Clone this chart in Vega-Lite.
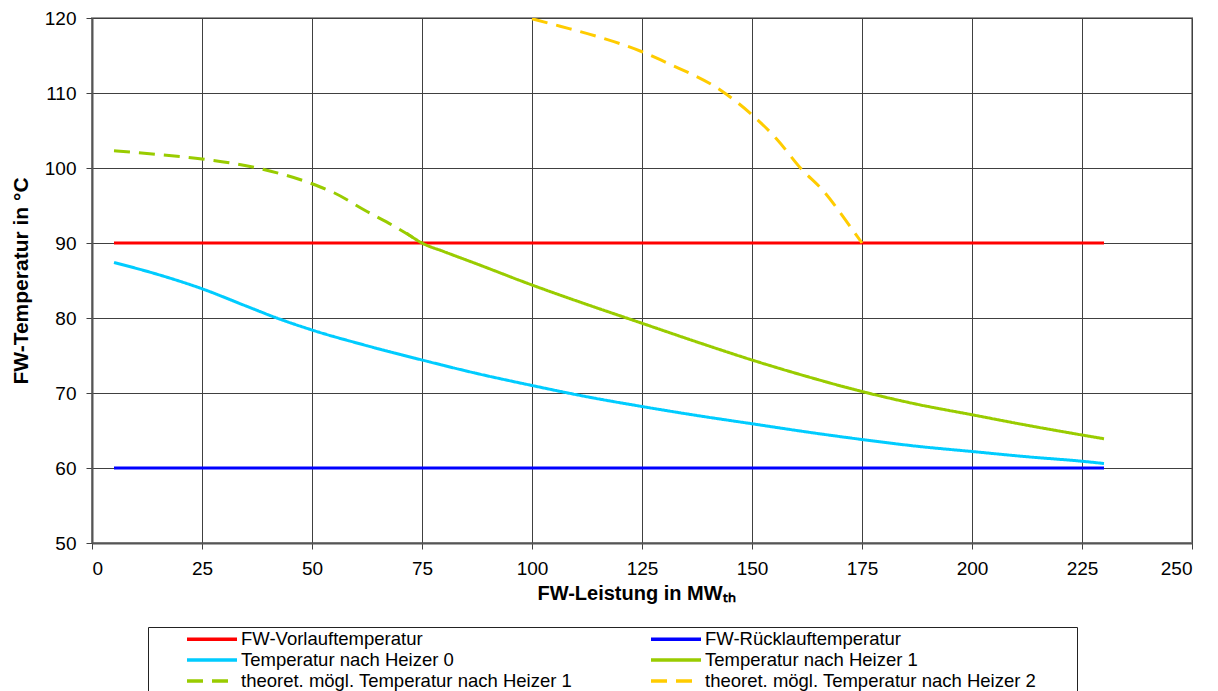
{
  "$schema": "https://vega.github.io/schema/vega-lite/v6.json",
  "width": 1100,
  "height": 525,
  "autosize": {"type": "none"},
  "padding": {"left": 92, "top": 18, "right": 26, "bottom": 148},
  "background": "white",
  "config": {
    "font": "Liberation Sans",
    "view": {"stroke": "#999999", "strokeWidth": 2},
    "axis": {
      "gridColor": "#404040",
      "gridWidth": 1,
      "gridOpacity": 1,
      "domainColor": "#555555",
      "domainWidth": 2,
      "tickColor": "#404040",
      "tickSize": 6,
      "labelFont": "Liberation Sans",
      "labelFontSize": 19,
      "labelColor": "#000000",
      "titleFont": "Liberation Sans",
      "titleFontSize": 19,
      "titleFontWeight": "bold",
      "titleColor": "#000000"
    }
  },
  "data": {
    "values": [
      {"series": "FW-Vorlauftemperatur", "x": 5, "y": 90},
      {"series": "FW-Vorlauftemperatur", "x": 230, "y": 90},
      {"series": "FW-Rücklauftemperatur", "x": 5, "y": 60},
      {"series": "FW-Rücklauftemperatur", "x": 230, "y": 60},
      {"series": "Temperatur nach Heizer 0", "x": 5, "y": 87.4},
      {"series": "Temperatur nach Heizer 0", "x": 15, "y": 85.8},
      {"series": "Temperatur nach Heizer 0", "x": 25, "y": 83.9},
      {"series": "Temperatur nach Heizer 0", "x": 35, "y": 81.6},
      {"series": "Temperatur nach Heizer 0", "x": 42, "y": 80.0},
      {"series": "Temperatur nach Heizer 0", "x": 50, "y": 78.4},
      {"series": "Temperatur nach Heizer 0", "x": 62.5, "y": 76.3},
      {"series": "Temperatur nach Heizer 0", "x": 75, "y": 74.4},
      {"series": "Temperatur nach Heizer 0", "x": 87.5, "y": 72.6},
      {"series": "Temperatur nach Heizer 0", "x": 100, "y": 71.0},
      {"series": "Temperatur nach Heizer 0", "x": 112.5, "y": 69.5},
      {"series": "Temperatur nach Heizer 0", "x": 125, "y": 68.2},
      {"series": "Temperatur nach Heizer 0", "x": 137.5, "y": 67.0},
      {"series": "Temperatur nach Heizer 0", "x": 150, "y": 65.9},
      {"series": "Temperatur nach Heizer 0", "x": 162.5, "y": 64.8},
      {"series": "Temperatur nach Heizer 0", "x": 175, "y": 63.8},
      {"series": "Temperatur nach Heizer 0", "x": 187.5, "y": 62.9},
      {"series": "Temperatur nach Heizer 0", "x": 200, "y": 62.2},
      {"series": "Temperatur nach Heizer 0", "x": 212.5, "y": 61.5},
      {"series": "Temperatur nach Heizer 0", "x": 225, "y": 60.9},
      {"series": "Temperatur nach Heizer 0", "x": 230, "y": 60.6},
      {"series": "Temperatur nach Heizer 1", "x": 71.5, "y": 91.3},
      {"series": "Temperatur nach Heizer 1", "x": 75, "y": 90.0},
      {"series": "Temperatur nach Heizer 1", "x": 80, "y": 88.85},
      {"series": "Temperatur nach Heizer 1", "x": 87.5, "y": 87.2},
      {"series": "Temperatur nach Heizer 1", "x": 100, "y": 84.4},
      {"series": "Temperatur nach Heizer 1", "x": 112.5, "y": 81.8},
      {"series": "Temperatur nach Heizer 1", "x": 125, "y": 79.3},
      {"series": "Temperatur nach Heizer 1", "x": 137.5, "y": 76.8},
      {"series": "Temperatur nach Heizer 1", "x": 150, "y": 74.4},
      {"series": "Temperatur nach Heizer 1", "x": 162.5, "y": 72.2},
      {"series": "Temperatur nach Heizer 1", "x": 175, "y": 70.2},
      {"series": "Temperatur nach Heizer 1", "x": 187.5, "y": 68.5},
      {"series": "Temperatur nach Heizer 1", "x": 200, "y": 67.1},
      {"series": "Temperatur nach Heizer 1", "x": 212.5, "y": 65.7},
      {"series": "Temperatur nach Heizer 1", "x": 225, "y": 64.4},
      {"series": "Temperatur nach Heizer 1", "x": 230, "y": 63.9},
      {"series": "theoret. mögl. Temperatur nach Heizer 1", "x": 5, "y": 102.3},
      {"series": "theoret. mögl. Temperatur nach Heizer 1", "x": 15, "y": 101.8},
      {"series": "theoret. mögl. Temperatur nach Heizer 1", "x": 25, "y": 101.2},
      {"series": "theoret. mögl. Temperatur nach Heizer 1", "x": 37.5, "y": 100.0},
      {"series": "theoret. mögl. Temperatur nach Heizer 1", "x": 50, "y": 97.9},
      {"series": "theoret. mögl. Temperatur nach Heizer 1", "x": 55, "y": 96.7},
      {"series": "theoret. mögl. Temperatur nach Heizer 1", "x": 62.5, "y": 94.2},
      {"series": "theoret. mögl. Temperatur nach Heizer 1", "x": 68.5, "y": 92.3},
      {"series": "theoret. mögl. Temperatur nach Heizer 1", "x": 75, "y": 90.0},
      {"series": "theoret. mögl. Temperatur nach Heizer 2", "x": 100, "y": 119.9},
      {"series": "theoret. mögl. Temperatur nach Heizer 2", "x": 106.4, "y": 118.9},
      {"series": "theoret. mögl. Temperatur nach Heizer 2", "x": 115, "y": 117.5},
      {"series": "theoret. mögl. Temperatur nach Heizer 2", "x": 125, "y": 115.5},
      {"series": "theoret. mögl. Temperatur nach Heizer 2", "x": 130.7, "y": 114.0},
      {"series": "theoret. mögl. Temperatur nach Heizer 2", "x": 142.8, "y": 110.4},
      {"series": "theoret. mögl. Temperatur nach Heizer 2", "x": 150, "y": 107.1},
      {"series": "theoret. mögl. Temperatur nach Heizer 2", "x": 155.7, "y": 103.8},
      {"series": "theoret. mögl. Temperatur nach Heizer 2", "x": 161, "y": 100.0},
      {"series": "theoret. mögl. Temperatur nach Heizer 2", "x": 166.3, "y": 96.9},
      {"series": "theoret. mögl. Temperatur nach Heizer 2", "x": 172.3, "y": 92.2},
      {"series": "theoret. mögl. Temperatur nach Heizer 2", "x": 175, "y": 90.0}
    ]
  },
  "mark": {"type": "line", "strokeWidth": 3, "interpolate": "monotone", "clip": true},
  "encoding": {
    "x": {
      "field": "x",
      "type": "quantitative",
      "scale": {"domain": [0, 250], "nice": false},
      "axis": {"values": [0, 25, 50, 75, 100, 125, 150, 175, 200, 225, 250], "labelPadding": 10, "titlePadding": 5, "titleFontSize": 20, "titleAlign": "left", "titleX": 445, "title": "FW-Leistung in MWₜₕ"}
    },
    "y": {
      "field": "y",
      "type": "quantitative",
      "scale": {"domain": [50, 120], "nice": false, "zero": false},
      "axis": {"values": [50, 60, 70, 80, 90, 100, 110, 120], "labelPadding": 10, "titlePadding": 13, "titleFontSize": 21, "title": "FW-Temperatur in °C"}
    },
    "color": {
      "field": "series",
      "type": "nominal",
      "scale": {
        "domain": ["FW-Vorlauftemperatur", "FW-Rücklauftemperatur", "Temperatur nach Heizer 0", "Temperatur nach Heizer 1", "theoret. mögl. Temperatur nach Heizer 1", "theoret. mögl. Temperatur nach Heizer 2"],
        "range": ["#FF0000", "#0000FF", "#00CCFF", "#99CC00", "#99CC00", "#FFCC00"]
      },
      "legend": {
        "title": "\u00a0",
        "titleOrient": "right",
        "titlePadding": 38,
        "titleFontSize": 2,
        "orient": "none",
        "legendX": 56,
        "legendY": 609,
        "columns": 2,
        "direction": "horizontal",
        "symbolType": "stroke",
        "symbolSize": 2500,
        "symbolStrokeWidth": 3.5,
        "symbolOffset": 34,
        "labelOffset": 2,
        "clipHeight": 18,
        "labelFont": "Liberation Sans",
        "labelFontSize": 18.5,
        "labelColor": "#000000",
        "labelLimit": 600,
        "columnPadding": 42,
        "rowPadding": 2,
        "padding": 3,
        "strokeColor": "#222222",
        "fillColor": "white",
        "encode": {
          "symbols": {
            "update": {
              "strokeDash": {"signal": "indexof(datum.value, 'theoret') === 0 ? [16, 18] : [1, 0]"}
            }
          }
        }
      }
    },
    "strokeDash": {
      "field": "series",
      "type": "nominal",
      "scale": {
        "domain": ["FW-Vorlauftemperatur", "FW-Rücklauftemperatur", "Temperatur nach Heizer 0", "Temperatur nach Heizer 1", "theoret. mögl. Temperatur nach Heizer 1", "theoret. mögl. Temperatur nach Heizer 2"],
        "range": [[1, 0], [1, 0], [1, 0], [1, 0], [16, 9], [16, 9]]
      },
      "legend": null
    }
  }
}
